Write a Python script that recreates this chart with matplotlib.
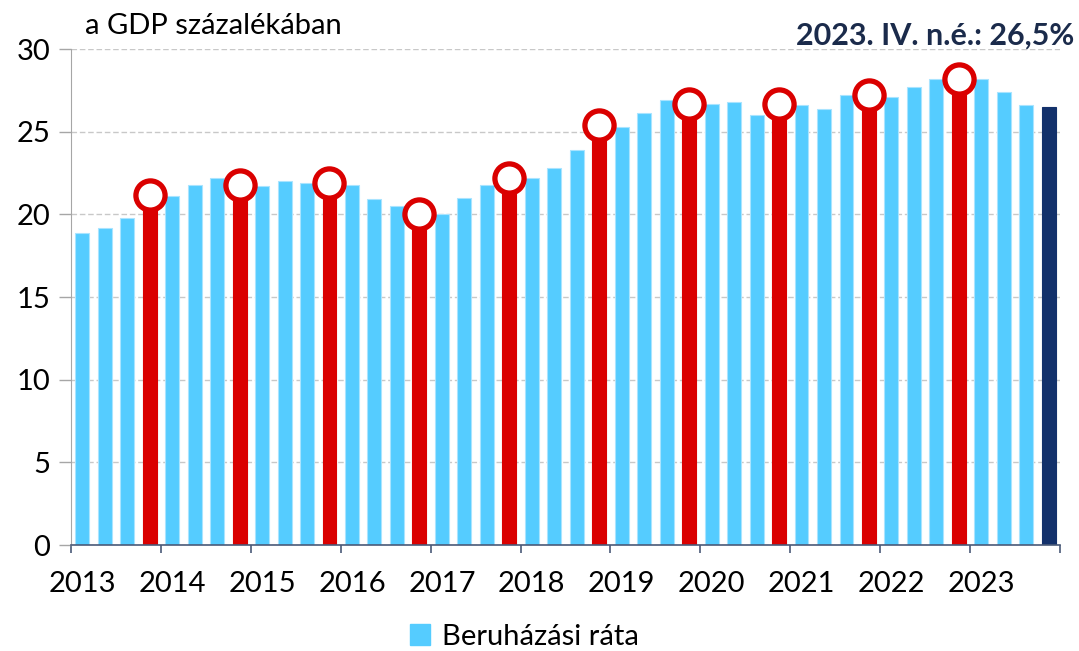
import numpy as np
import matplotlib.pyplot as plt
from matplotlib.patches import Patch

plt.rcParams['font.family'] = ['Lato', 'DejaVu Sans']

# Beruházási ráta, quarterly, 2013 Q1 - 2023 Q4 (a GDP százalékában)
years = [str(y) for y in range(2013, 2024)]
rate_2013 = [18.9, 19.2, 19.8, 21.2]
rate_2014 = [21.1, 21.8, 22.2, 21.8]
rate_2015 = [21.7, 22.0, 21.9, 21.9]
rate_2016 = [21.8, 20.9, 20.5, 20.0]
rate_2017 = [20.0, 21.0, 21.8, 22.2]
rate_2018 = [22.2, 22.8, 23.9, 25.4]
rate_2019 = [25.3, 26.1, 26.9, 26.7]
rate_2020 = [26.7, 26.8, 26.0, 26.7]
rate_2021 = [26.6, 26.4, 27.2, 27.2]
rate_2022 = [27.1, 27.7, 28.2, 28.2]
rate_2023 = [28.2, 27.4, 26.6, 26.5]

values = np.array(rate_2013 + rate_2014 + rate_2015 + rate_2016 + rate_2017 + rate_2018
                  + rate_2019 + rate_2020 + rate_2021 + rate_2022 + rate_2023)
n = len(values)
x = np.arange(n)

LIGHT = '#55CCFF'
RED = '#DA0000'
NAVY = '#13316B'

colors = [LIGHT] * n
q4 = [i for i in range(n) if i % 4 == 3 and i != n - 1]
for i in q4:
    colors[i] = RED
colors[-1] = NAVY
edges = ['#A9E4FF' if c == LIGHT else c for c in colors]

fig = plt.figure(figsize=(10.79, 6.51), dpi=100)
ax = fig.add_axes([0.0658, 0.1628, 0.9166, 0.7619])

ax.bar(x, values, width=0.62, color=colors, edgecolor=edges, linewidth=0.8, zorder=2)
ax.plot(x[q4], values[q4], 'o', ms=21, mfc='white', mec=RED, mew=3.8, zorder=3)

ax.set_xlim(-0.5, n - 0.5)
ax.set_ylim(0, 30)
ax.set_yticks(np.arange(0, 31, 5))
ax.yaxis.grid(True, linestyle=(0, (4, 2)), color='#C8C8C8', linewidth=1.0, zorder=0)
ax.set_axisbelow(True)

# year boundary ticks and labels under the first quarter
ax.set_xticks(np.arange(-0.5, n, 4))
ax.set_xticklabels([])
ax.set_xticks(np.arange(0, n, 4), minor=True)
ax.set_xticklabels(years, minor=True)
ax.tick_params(axis='x', which='major', direction='out', length=6, width=1.2, color='#4A5A78')
ax.tick_params(axis='x', which='minor', length=0, pad=19, labelsize=21)
ax.tick_params(axis='y', direction='out', length=9, width=1, color='#A6A6A6', labelsize=21, pad=6)

for s in ['top', 'right']:
    ax.spines[s].set_visible(False)
ax.spines['left'].set_color('#A6A6A6')
ax.spines['bottom'].set_color('#4A5A78')
ax.spines['bottom'].set_linewidth(1.2)
ax.spines['bottom'].set_zorder(4)

fig.text(0.079, 0.96, 'a GDP százalékában', fontsize=21, va='center', ha='left')
fig.text(0.996, 0.945, '2023. IV. n.é.: 26,5%', fontsize=22, fontweight='bold',
         color='#1B2B4B', va='center', ha='right')

fig.legend(handles=[Patch(facecolor=LIGHT, edgecolor=LIGHT)], labels=['Beruházási ráta'],
           loc='center', bbox_to_anchor=(0.486, 0.022), frameon=False, fontsize=21,
           handlelength=0.7, handleheight=0.7, handletextpad=0.4)

fig.savefig('out.png', dpi=100)
